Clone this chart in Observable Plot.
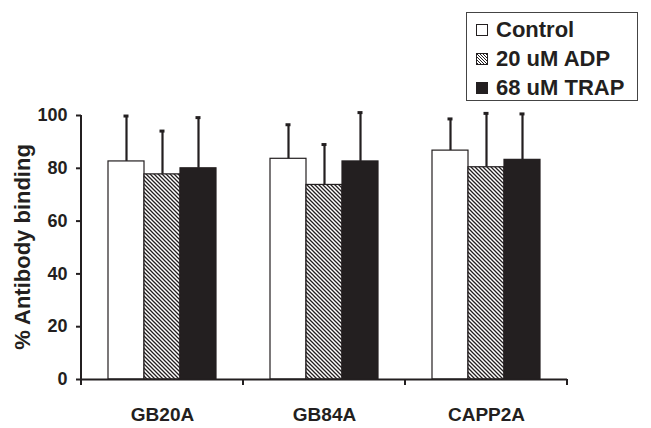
<!DOCTYPE html>
<html>
<head>
<meta charset="utf-8">
<script src="https://cdn.jsdelivr.net/npm/d3@7"></script>
<script src="https://cdn.jsdelivr.net/npm/@observablehq/plot@0.6"></script>
<style>
  html, body { margin: 0; padding: 0; background: #fff; }
  #wrap { position: relative; width: 651px; height: 428px; font-family: "Liberation Sans", Arial, sans-serif; }
  #legend { position: absolute; left: 466px; top: 12px; width: 172px; height: 89px; border: 1px solid #444; box-sizing: border-box; background: #fff; }
  .item { position: absolute; left: 9px; display: flex; align-items: center; font-weight: bold; font-size: 22px; color: #231f20; line-height: 1; }
  .item svg { margin-right: 8px; }
</style>
</head>
<body>
<div id="wrap">
  <div id="chart"></div>
  <div id="legend"></div>
</div>
<script>
const categories = ["GB20A", "GB84A", "CAPP2A"];
const series = ["Control", "20 uM ADP", "68 uM TRAP"];
const means = {
  "Control":    [82.6, 83.6, 86.7],
  "20 uM ADP":  [77.7, 73.7, 80.4],
  "68 uM TRAP": [80.0, 82.6, 83.2]
};
const errorTops = {
  "Control":    [99.8, 96.5, 98.7],
  "20 uM ADP":  [94.1, 89.0, 100.8],
  "68 uM TRAP": [99.2, 101.1, 100.6]
};
const yTicks = [0, 20, 40, 60, 80, 100];
const yLabel = "% Antibody binding";

const rows = [];
categories.forEach((c, i) => series.forEach(s => rows.push({category: c, series: s, mean: means[s][i], top: errorTops[s][i]})));

const ink = "#231f20";
const font = "'Liberation Sans', Arial, sans-serif";

const plot = Plot.plot({
  width: 651,
  height: 428,
  marginLeft: 81,
  marginRight: 84,
  marginTop: 115,
  marginBottom: 49,
  style: {fontFamily: font, fontWeight: "bold", color: ink, background: "white", overflow: "visible"},
  fx: {domain: categories, padding: 0, label: null, axis: null},
  x: {domain: series, paddingInner: 0, paddingOuter: 0.75, axis: null},
  y: {domain: [0, 100], ticks: yTicks, label: null},
  color: {type: "ordinal", domain: series, range: ["white", "url(#hatch)", ink]},
  marks: [
    Plot.axisFx({anchor: "bottom", tickSize: 0, tickPadding: 28, fontSize: 19, label: null, fontWeight: "bold"}),
    Plot.axisY({ticks: yTicks, tickSize: 5, tickPadding: 9, fontSize: 18, strokeWidth: 2, label: null}),
    Plot.ruleX(rows, {x: "series", fx: "category", y1: "mean", y2: "top", stroke: ink, strokeWidth: 2.2}),
    Plot.tickY(rows, {x: "series", fx: "category", y: "top", stroke: ink, strokeWidth: 3, inset: 15.5}),
    Plot.barY(rows, {x: "series", fx: "category", y: "mean", fill: "series", stroke: ink, strokeWidth: 1.2}),
    Plot.ruleY([0], {stroke: ink, strokeWidth: 2})
  ]
});

// Pattern definition for the hatched series
const svg = d3.select(plot);
const defs = svg.insert("defs", ":first-child");
const pat = defs.append("pattern").attr("id", "hatch").attr("patternUnits", "userSpaceOnUse").attr("width", 4).attr("height", 4);
pat.append("rect").attr("width", 4).attr("height", 4).attr("fill", "white");
pat.append("path").attr("d", "M-1,-1 L5,5 M-1,3 L1,5 M3,-1 L5,1").attr("stroke", ink).attr("stroke-width", 1.3);

// Axis lines, boundary ticks and y title using Plot's own scales
const fx = plot.scale("fx");
const y = plot.scale("y");
const y0 = y.apply(0), y100 = y.apply(100);
const left = fx.apply(categories[0]);
const bw = fx.bandwidth;
const edges = categories.map(c => fx.apply(c)).concat([fx.apply(categories[categories.length - 1]) + bw]);
const g = svg.append("g").attr("stroke", ink).attr("stroke-width", 2);
g.append("line").attr("x1", left).attr("x2", left).attr("y1", y100).attr("y2", y0 + 1);
edges.forEach(e => g.append("line").attr("x1", e).attr("x2", e).attr("y1", y0).attr("y2", y0 + 6));
svg.append("text")
  .attr("transform", `translate(${left - 59},${(y0 + y100) / 2}) rotate(-90)`)
  .attr("text-anchor", "middle").attr("dominant-baseline", "central")
  .attr("font-size", 22).attr("font-weight", "bold").attr("fill", ink).attr("font-family", font)
  .text(yLabel);

document.getElementById("chart").appendChild(plot);

// Legend
const legend = document.getElementById("legend");
const legendFills = {"Control": "white", "20 uM ADP": "url(#hatchL)", "68 uM TRAP": ink};
const rowsTop = [6, 35, 64];
series.forEach((s, i) => {
  const div = document.createElement("div");
  div.className = "item";
  div.style.top = rowsTop[i] + "px";
  const sw = d3.create("svg").attr("width", 12).attr("height", 12);
  if (i === 1) {
    const p = sw.append("defs").append("pattern").attr("id", "hatchL").attr("patternUnits", "userSpaceOnUse").attr("width", 3).attr("height", 3);
    p.append("rect").attr("width", 3).attr("height", 3).attr("fill", "white");
    p.append("path").attr("d", "M-1,-1 L4,4 M-1,2 L1,4 M2,-1 L4,1").attr("stroke", ink).attr("stroke-width", 1);
  }
  sw.append("rect").attr("x", 0.5).attr("y", 0.5).attr("width", 11).attr("height", 11).attr("fill", legendFills[s]).attr("stroke", ink).attr("stroke-width", 1);
  div.appendChild(sw.node());
  const span = document.createElement("span");
  span.textContent = s;
  div.appendChild(span);
  legend.appendChild(div);
});
</script>
</body>
</html>
